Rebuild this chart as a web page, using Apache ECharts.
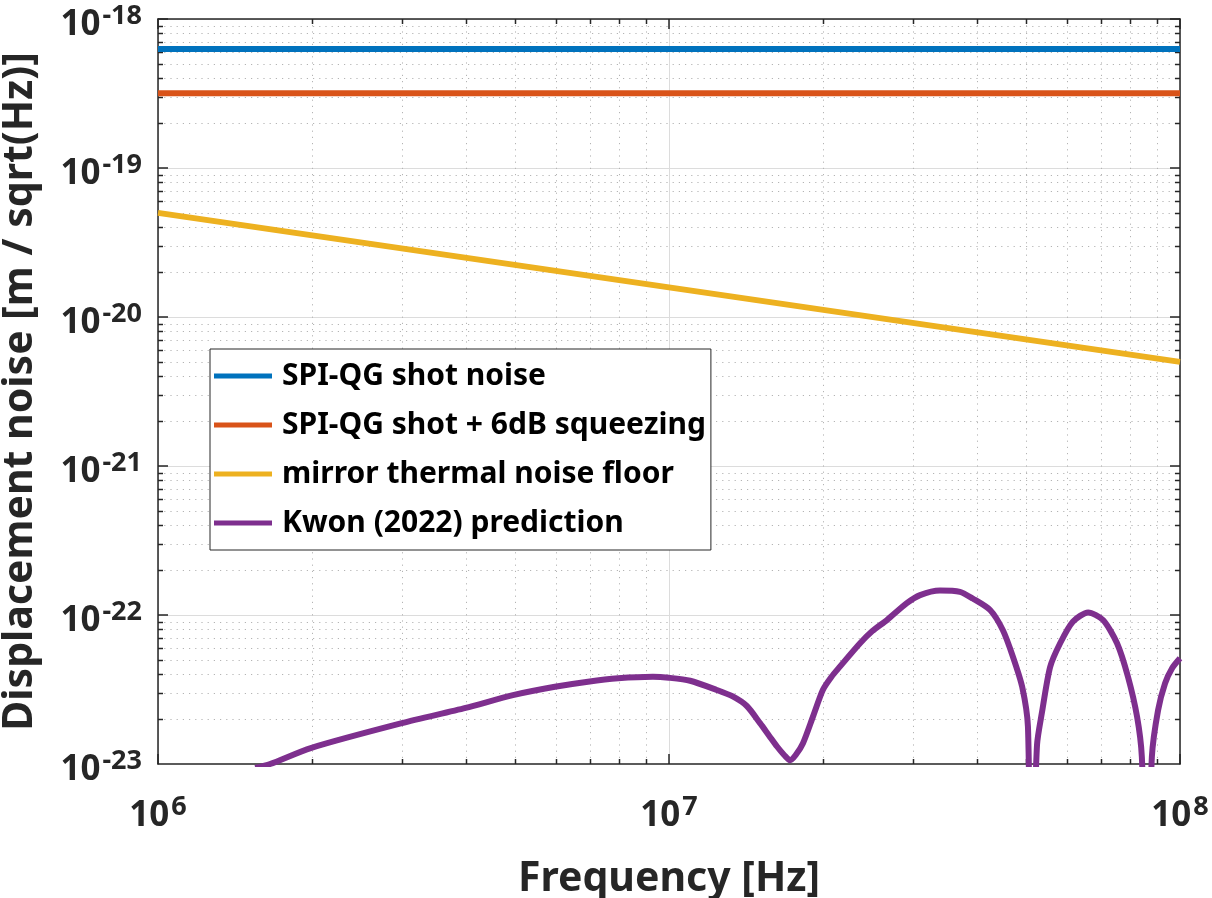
<!DOCTYPE html>
<html>
<head>
<meta charset="utf-8">
<style>
  html, body { margin: 0; padding: 0; background: #ffffff; }
  #chart { width: 1212px; height: 898px; }
</style>
<script src="https://cdn.jsdelivr.net/npm/echarts@6/dist/echarts.min.js"></script>
</head>
<body>
<div id="chart"></div>
<script>
// ---- data -------------------------------------------------------------
const seriesNames = [
  'SPI-QG shot noise',
  'SPI-QG shot + 6dB squeezing',
  'mirror thermal noise floor',
  'Kwon (2022) prediction'
];

// [frequency Hz, displacement noise m/sqrt(Hz)]
const shotNoise = [[1e6, 6.3e-19], [1e8, 6.3e-19]];
const shotSqueezed = [[1e6, 3.17e-19], [1e8, 3.17e-19]];
const thermalFloor = [[1e6, 5.0e-20], [1e8, 5.0e-21]];
const kwonPrediction = [
  [1.55e6, 9.4e-24], [1.657e6, 1.0e-23], [1.99e6, 1.28e-23], [3.0e6, 1.88e-23],
  [4.0e6, 2.38e-23], [4.95e6, 2.90e-23], [5.98e6, 3.30e-23], [6.94e6, 3.57e-23],
  [7.95e6, 3.76e-23], [9.3e6, 3.85e-23], [1.0e7, 3.79e-23], [1.1e7, 3.62e-23],
  [1.24e7, 3.14e-23], [1.33e7, 2.85e-23], [1.42e7, 2.45e-23], [1.507e7, 1.88e-23],
  [1.57e7, 1.55e-23], [1.627e7, 1.31e-23], [1.68e7, 1.15e-23], [1.725e7, 1.06e-23],
  [1.77e7, 1.15e-23], [1.829e7, 1.38e-23], [1.913e7, 2.08e-23], [2.0e7, 3.14e-23],
  [2.08e7, 3.85e-23], [2.16e7, 4.50e-23], [2.365e7, 6.46e-23], [2.5e7, 7.80e-23],
  [2.67e7, 9.25e-23], [2.92e7, 1.20e-22], [3.1e7, 1.36e-22], [3.39e7, 1.46e-22],
  [3.71e7, 1.43e-22], [3.93e7, 1.29e-22], [4.25e7, 1.08e-22], [4.5e7, 7.93e-23],
  [4.71e7, 5.25e-23], [4.91e7, 3.30e-23], [5.04e7, 1.78e-23], [5.11e7, 1.0e-24],
  [5.25e7, 1.34e-23], [5.37e7, 2.23e-23], [5.57e7, 4.48e-23], [5.83e7, 6.49e-23],
  [6.17e7, 9.02e-23], [6.61e7, 1.04e-22], [7.07e7, 9.25e-23], [7.53e7, 6.46e-23],
  [7.91e7, 3.85e-23], [8.24e7, 2.08e-23], [8.42e7, 1.12e-23], [8.62e7, 1.0e-24],
  [8.81e7, 1.12e-23], [9.06e7, 2.30e-23], [9.35e7, 3.48e-23], [9.65e7, 4.39e-23],
  [1.0e8, 5.12e-23]
];

const seriesColors = ['#0072BD', '#D95319', '#EDB120', '#7E2F8E'];

const xRange = [1e6, 1e8];
const yRange = [1e-23, 1e-18];
// decade tick labels
const xTicks = [1e6, 1e7, 1e8];
const yTicks = [1e-23, 1e-22, 1e-21, 1e-20, 1e-19, 1e-18];

// ---- minor grid positions (2..9 x each decade) --------------------------
function minorValues(lo, hi) {
  const out = [];
  const e0 = Math.round(Math.log10(lo));
  const e1 = Math.round(Math.log10(hi));
  for (let e = e0; e < e1; e++) {
    for (let m = 2; m <= 9; m++) out.push(Number((m + 'e' + e)));
  }
  return out;
}
const xMinor = minorValues(xRange[0], xRange[1]).map(v => [v, 1e-20]);
const yMinor = minorValues(yRange[0], yRange[1]).map(v => [1e7, v]);

// ---- styling ----------------------------------------------------------
const FONT = '"Noto Sans", "Open Sans", sans-serif';
const INK = '#262626';

function powLabel(v) {
  const e = Math.round(Math.log10(v));
  return '{b|10}{s|' + e + '}';
}
const richPow = {
  b: { fontFamily: FONT, fontWeight: 'bold', fontSize: 35, color: INK, lineHeight: 40, verticalAlign: 'bottom' },
  s: { fontFamily: FONT, fontWeight: 'bold', fontSize: 27, color: INK, lineHeight: 40, verticalAlign: 'top', padding: [0, 0, 0, 2] }
};

function logAxis(range, extra) {
  return Object.assign({
    type: 'log',
    logBase: 10,
    min: range[0],
    max: range[1],
    axisLine: { show: true, onZero: false, lineStyle: { color: INK, width: 1.5 } },
    axisTick: { show: true, inside: true, length: 10, lineStyle: { color: INK, width: 1.5 } },
    splitLine: { show: true, lineStyle: { color: '#dcdcdc', width: 1 } },
    minorTick: { show: false },
    minorSplitLine: { show: false }
  }, extra);
}

// dotted minor grid line plus short inner ticks on both sides
function minorRender(isX) {
  return function (params, api) {
    const cs = params.coordSys;
    const p = api.coord([api.value(0), api.value(1)]);
    const dotted = { stroke: '#b4b4b4', lineWidth: 1, lineDash: [1.2, 5] };
    const tick = { stroke: INK, lineWidth: 1.5 };
    if (isX) {
      const x = Math.round(p[0]) + 0.5;
      const top = cs.y, bot = cs.y + cs.height;
      return { type: 'group', children: [
        { type: 'line', shape: { x1: x, y1: top, x2: x, y2: bot }, style: dotted, silent: true },
        { type: 'line', shape: { x1: x, y1: bot, x2: x, y2: bot - 5 }, style: tick, silent: true },
        { type: 'line', shape: { x1: x, y1: top, x2: x, y2: top + 5 }, style: tick, silent: true }
      ]};
    } else {
      const y = Math.round(p[1]) + 0.5;
      const l = cs.x, r = cs.x + cs.width;
      return { type: 'group', children: [
        { type: 'line', shape: { x1: l, y1: y, x2: r, y2: y }, style: dotted, silent: true },
        { type: 'line', shape: { x1: l, y1: y, x2: l + 5, y2: y }, style: tick, silent: true },
        { type: 'line', shape: { x1: r, y1: y, x2: r - 5, y2: y }, style: tick, silent: true }
      ]};
    }
  };
}

function lineSeries(i, data, smooth) {
  return {
    name: seriesNames[i],
    type: 'line',
    data: data,
    showSymbol: false,
    symbol: 'none',
    smooth: smooth || false,
    clip: true,
    z: 10,
    lineStyle: { color: seriesColors[i], width: 6 },
    itemStyle: { color: seriesColors[i] },
    emphasis: { disabled: true }
  };
}

const chart = echarts.init(document.getElementById('chart'), null, { renderer: 'canvas', width: 1212, height: 898 });
chart.setOption({
  animation: false,
  backgroundColor: '#ffffff',
  grid: { left: 158, right: 32, top: 19, bottom: 134, outerBoundsMode: 'none' },
  xAxis: [
    logAxis(xRange, {
      position: 'bottom',
      name: 'Frequency [Hz]',
      nameLocation: 'middle',
      nameGap: 95,
      nameMoveOverlap: false,
      nameTextStyle: { fontFamily: FONT, fontWeight: 'bold', fontSize: 41, color: INK },
      axisLabel: { margin: 30, formatter: powLabel, rich: richPow, customValues: xTicks, hideOverlap: false }
    }),
    logAxis(xRange, {
      position: 'top',
      splitLine: { show: false },
      axisLabel: { show: false }
    })
  ],
  yAxis: [
    logAxis(yRange, {
      position: 'left',
      name: 'Displacement noise [m / sqrt(Hz)]',
      nameLocation: 'middle',
      nameGap: 117,
      nameMoveOverlap: false,
      nameTextStyle: { fontFamily: FONT, fontWeight: 'bold', fontSize: 41, color: INK },
      axisLabel: { margin: 16, padding: [8, 0, 0, 0], formatter: powLabel, rich: richPow, customValues: yTicks, hideOverlap: false }
    }),
    logAxis(yRange, {
      position: 'right',
      splitLine: { show: false },
      axisLabel: { show: false }
    })
  ],
  legend: {
    data: seriesNames,
    orient: 'vertical',
    left: 210,
    top: 349,
    padding: [10, 5, 10, 4],
    itemGap: 15,
    itemWidth: 58,
    itemHeight: 5,
    icon: 'rect',
    backgroundColor: '#ffffff',
    borderColor: INK,
    borderWidth: 1,
    borderRadius: 0,
    selectedMode: false,
    textStyle: { fontFamily: FONT, fontWeight: 'bold', fontSize: 30, color: '#000000', lineHeight: 34, padding: [0, 0, 0, 5] }
  },
  series: [
    { type: 'custom', name: 'xMinorGrid', data: xMinor, renderItem: minorRender(true), z: 1, silent: true, clip: false },
    { type: 'custom', name: 'yMinorGrid', data: yMinor, renderItem: minorRender(false), z: 1, silent: true, clip: false },
    lineSeries(0, shotNoise),
    lineSeries(1, shotSqueezed),
    lineSeries(2, thermalFloor),
    lineSeries(3, kwonPrediction, 0.25)
  ]
});
</script>
</body>
</html>
